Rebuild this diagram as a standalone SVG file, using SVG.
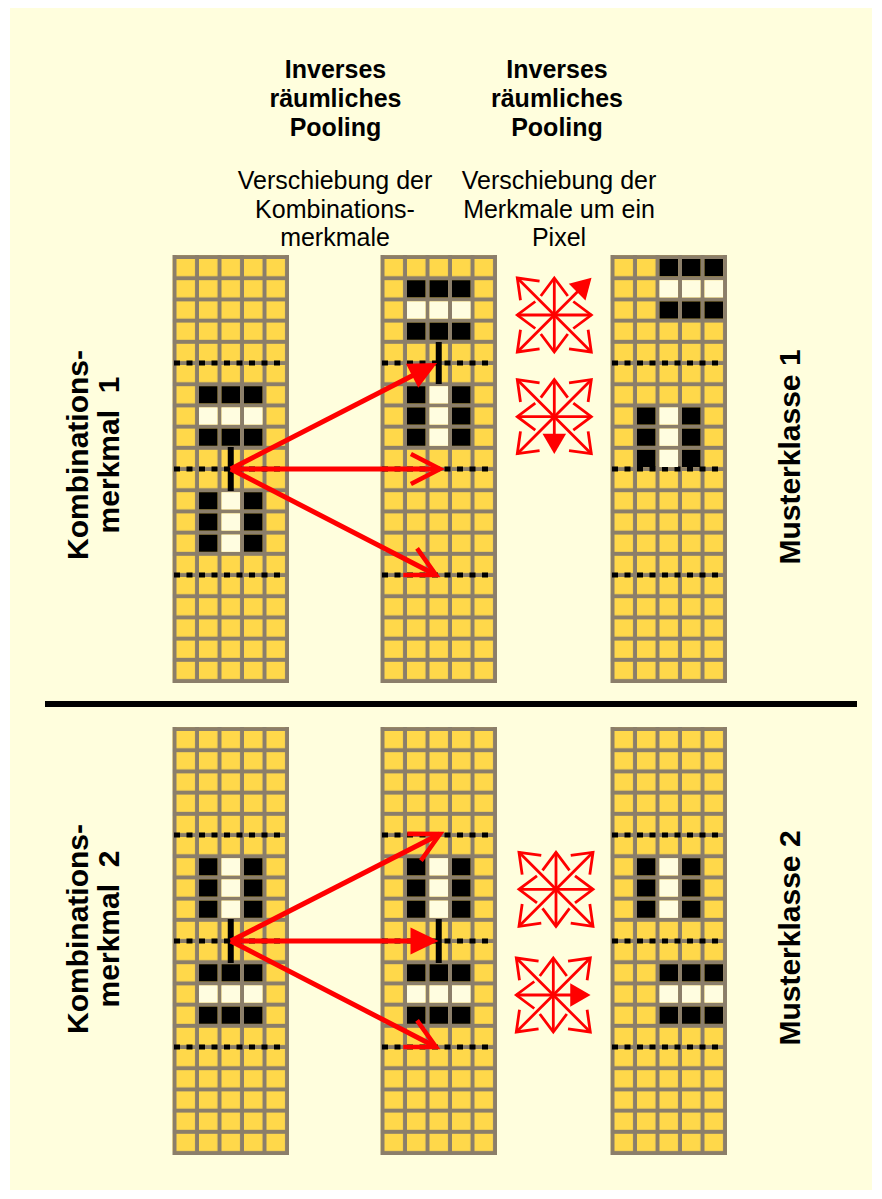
<svg xmlns="http://www.w3.org/2000/svg" xmlns:xlink="http://www.w3.org/1999/xlink" width="882" height="1199" viewBox="0 0 882 1199">
  <style>
    .bold { font-family: "Liberation Sans", Arial, sans-serif; font-weight: bold; font-size: 25px; fill: #000; text-anchor: middle; }
    .reg { font-family: "Liberation Sans", Arial, sans-serif; font-size: 25px; fill: #000; text-anchor: middle; }
    .side { font-family: "Liberation Sans", Arial, sans-serif; font-weight: bold; font-size: 30px; fill: #000; text-anchor: middle; white-space: pre; }
    .frame { fill: #8b7e6a; }
    .cells { fill: url(#cellTile); }
    .blk { fill: #000; }
    .crm { fill: #fffde0; }
    .dots { stroke: #000; stroke-width: 5; stroke-dasharray: 6 6.5; fill: none; }
    .bar { stroke: #000; stroke-width: 6; fill: none; }
    .big { stroke: #ff0000; stroke-width: 5; fill: none; }
    .big-open { marker-end: url(#headOpen); }
    .big-fill { marker-end: url(#headFill); }
    .spoke { stroke: #ff0000; stroke-width: 2.8; fill: none; marker-end: url(#tipOpen); }
    .spoke-fill { stroke: #ff0000; stroke-width: 2.8; fill: none; marker-end: url(#tipFill); }
  </style>
  <defs>
    <!-- one yellow cell per tile; the gray frame shows through between tiles -->
    <pattern id="cellTile" patternUnits="userSpaceOnUse" x="4" y="4" width="22.5" height="21.2">
      <rect x="0" y="0" width="18.5" height="17.2" fill="#ffd84a"/>
    </pattern>
    <!-- empty 5 x 20 grid with dotted separators every 5 rows -->
    <g id="grid">
      <rect class="frame" x="0" y="0" width="116.5" height="428"/>
      <rect class="cells" x="0" y="0" width="116.5" height="428"/>
      <path class="dots" d="M1.5 108H108M1.5 214H108M1.5 320H108"/>
    </g>
    <!-- horizontal stroke: black / cream / black rows -->
    <g id="hbar">
      <rect class="blk" x="0" y="0" width="18.5" height="17.2"/>
      <rect class="blk" x="22.5" y="0" width="18.5" height="17.2"/>
      <rect class="blk" x="45" y="0" width="18.5" height="17.2"/>
      <rect class="crm" x="0" y="21.2" width="18.5" height="17.2"/>
      <rect class="crm" x="22.5" y="21.2" width="18.5" height="17.2"/>
      <rect class="crm" x="45" y="21.2" width="18.5" height="17.2"/>
      <rect class="blk" x="0" y="42.4" width="18.5" height="17.2"/>
      <rect class="blk" x="22.5" y="42.4" width="18.5" height="17.2"/>
      <rect class="blk" x="45" y="42.4" width="18.5" height="17.2"/>
    </g>
    <!-- vertical stroke: black / cream / black columns -->
    <g id="vbar">
      <rect class="blk" x="0" y="0" width="18.5" height="17.2"/>
      <rect class="crm" x="22.5" y="0" width="18.5" height="17.2"/>
      <rect class="blk" x="45" y="0" width="18.5" height="17.2"/>
      <rect class="blk" x="0" y="21.2" width="18.5" height="17.2"/>
      <rect class="crm" x="22.5" y="21.2" width="18.5" height="17.2"/>
      <rect class="blk" x="45" y="21.2" width="18.5" height="17.2"/>
      <rect class="blk" x="0" y="42.4" width="18.5" height="17.2"/>
      <rect class="crm" x="22.5" y="42.4" width="18.5" height="17.2"/>
      <rect class="blk" x="45" y="42.4" width="18.5" height="17.2"/>
    </g>
    <marker id="headOpen" markerUnits="userSpaceOnUse" orient="auto" refX="0" refY="0" markerWidth="40" markerHeight="40" viewBox="-40 -20 44 40" overflow="visible">
      <path d="M-32 -16.5L0 0L-32 16.5" fill="none" stroke="#ff0000" stroke-width="5"/>
    </marker>
    <marker id="headFill" markerUnits="userSpaceOnUse" orient="auto" refX="0" refY="0" markerWidth="40" markerHeight="40" viewBox="-30 -20 40 40" overflow="visible">
      <path d="M6 0L-22 -13.5L-22 13.5Z" fill="#ff0000"/>
    </marker>
    <marker id="tipOpen" markerUnits="userSpaceOnUse" orient="auto" refX="0" refY="0" markerWidth="30" markerHeight="30" viewBox="-22 -15 26 30" overflow="visible">
      <path d="M-18 -13.5L0 0L-18 13.5" fill="none" stroke="#ff0000" stroke-width="2.8"/>
    </marker>
    <marker id="tipFill" markerUnits="userSpaceOnUse" orient="auto" refX="0" refY="0" markerWidth="30" markerHeight="30" viewBox="-20 -14 28 28" overflow="visible">
      <path d="M4 0L-15 -11L-15 11Z" fill="#ff0000"/>
    </marker>
  </defs>

  <rect x="0" y="0" width="882" height="1199" fill="#ffffff"/>
  <rect x="10" y="8" width="862" height="1182" fill="#fffedd"/>

  <!-- column headings -->
  <g id="heading-pool-1">
    <text class="bold" x="335.5" y="78">Inverses</text>
    <text class="bold" x="335.5" y="107">räumliches</text>
    <text class="bold" x="335.5" y="136">Pooling</text>
  </g>
  <g id="heading-pool-2">
    <text class="bold" x="557" y="78">Inverses</text>
    <text class="bold" x="557" y="107">räumliches</text>
    <text class="bold" x="557" y="136">Pooling</text>
  </g>
  <g id="note-shift-combo">
    <text class="reg" x="335" y="189">Verschiebung der</text>
    <text class="reg" x="335" y="218">Kombinations-</text>
    <text class="reg" x="335" y="246">merkmale</text>
  </g>
  <g id="note-shift-pixel">
    <text class="reg" x="559" y="189">Verschiebung der</text>
    <text class="reg" x="559" y="218">Merkmale um ein</text>
    <text class="reg" x="559" y="246">Pixel</text>
  </g>

  <!-- side labels -->
  <g id="label-combo-1" transform="translate(88,455) rotate(-90)">
    <text class="side" x="0" y="0">Kombinations-</text>
    <text class="side" x="0" y="31">merkmal  1</text>
  </g>
  <g id="label-class-1" transform="translate(800,457) rotate(-90)">
    <text class="side" x="0" y="0">Musterklasse 1</text>
  </g>
  <g id="label-combo-2" transform="translate(88,929) rotate(-90)">
    <text class="side" x="0" y="0">Kombinations-</text>
    <text class="side" x="0" y="31">merkmal  2</text>
  </g>
  <g id="label-class-2" transform="translate(800,938) rotate(-90)">
    <text class="side" x="0" y="0">Musterklasse 2</text>
  </g>

  <!-- upper example -->
  <g id="grid-combo-1">
    <use xlink:href="#grid" x="172.5" y="255"/>
    <use xlink:href="#hbar" x="199" y="386.2"/>
    <use xlink:href="#vbar" x="199" y="492.2"/>
    <path class="bar" d="M230.75 447V491"/>
  </g>
  <g id="grid-pooled-1">
    <use xlink:href="#grid" x="380.5" y="255"/>
    <use xlink:href="#hbar" x="407" y="280.2"/>
    <use xlink:href="#vbar" x="407" y="386.2"/>
    <path class="bar" d="M438.75 342V384"/>
  </g>
  <g id="grid-class-1">
    <use xlink:href="#grid" x="610.5" y="255"/>
    <use xlink:href="#hbar" x="659.5" y="259"/>
    <use xlink:href="#vbar" x="637" y="407.4"/>
  </g>

  <!-- divider -->
  <path d="M45 704H857" stroke="#000" stroke-width="6"/>

  <!-- lower example -->
  <g id="grid-combo-2">
    <use xlink:href="#grid" x="172.5" y="727"/>
    <use xlink:href="#vbar" x="199" y="858.2"/>
    <use xlink:href="#hbar" x="199" y="964.2"/>
    <path class="bar" d="M230.75 919V963"/>
  </g>
  <g id="grid-pooled-2">
    <use xlink:href="#grid" x="380.5" y="727"/>
    <use xlink:href="#vbar" x="407" y="858.2"/>
    <use xlink:href="#hbar" x="407" y="964.2"/>
    <path class="bar" d="M438.75 919V963"/>
  </g>
  <g id="grid-class-2">
    <use xlink:href="#grid" x="610.5" y="727"/>
    <use xlink:href="#vbar" x="637" y="858.2"/>
    <use xlink:href="#hbar" x="659.5" y="964.2"/>
  </g>

  <!-- one-pixel shift stars -->
  <g id="shift-star-1" transform="translate(554.3,315)">
    <path class="spoke" d="M0 0L0 -37"/>
    <path class="spoke-fill" d="M0 0L34.2 -34.2"/>
    <path class="spoke" d="M0 0L37 0"/>
    <path class="spoke" d="M0 0L37 37"/>
    <path class="spoke" d="M0 0L0 37"/>
    <path class="spoke" d="M0 0L-37 37"/>
    <path class="spoke" d="M0 0L-37 0"/>
    <path class="spoke" d="M0 0L-37 -37"/>
  </g>
  <g id="shift-star-2" transform="translate(554.3,416.7)">
    <path class="spoke" d="M0 0L0 -37"/>
    <path class="spoke" d="M0 0L37 -37"/>
    <path class="spoke" d="M0 0L37 0"/>
    <path class="spoke" d="M0 0L37 37"/>
    <path class="spoke-fill" d="M0 0L0 33"/>
    <path class="spoke" d="M0 0L-37 37"/>
    <path class="spoke" d="M0 0L-37 0"/>
    <path class="spoke" d="M0 0L-37 -37"/>
  </g>
  <g id="shift-star-3" transform="translate(556,889.3)">
    <path class="spoke" d="M0 0L0 -37"/>
    <path class="spoke" d="M0 0L37 -37"/>
    <path class="spoke" d="M0 0L37 0"/>
    <path class="spoke" d="M0 0L37 37"/>
    <path class="spoke" d="M0 0L0 37"/>
    <path class="spoke" d="M0 0L-37 37"/>
    <path class="spoke" d="M0 0L-37 0"/>
    <path class="spoke" d="M0 0L-37 -37"/>
  </g>
  <g id="shift-star-4" transform="translate(553.3,995)">
    <path class="spoke" d="M0 0L0 -37"/>
    <path class="spoke" d="M0 0L37 -37"/>
    <path class="spoke-fill" d="M0 0L33 0"/>
    <path class="spoke" d="M0 0L37 37"/>
    <path class="spoke" d="M0 0L0 37"/>
    <path class="spoke" d="M0 0L-37 37"/>
    <path class="spoke" d="M0 0L-37 0"/>
    <path class="spoke" d="M0 0L-37 -37"/>
  </g>

  <!-- pooling connectors -->
  <g id="connectors">
    <path class="big big-fill" d="M230.75 469L431.7 365.7"/>
    <path class="big big-open" d="M230.75 469L440 469"/>
    <path class="big big-open" d="M230.75 469L436 575"/>
    <path class="big big-open" d="M230.75 941L440 834"/>
    <path class="big big-fill" d="M230.75 941L432.5 941"/>
    <path class="big big-open" d="M230.75 941L436 1047"/>
  </g>
</svg>
